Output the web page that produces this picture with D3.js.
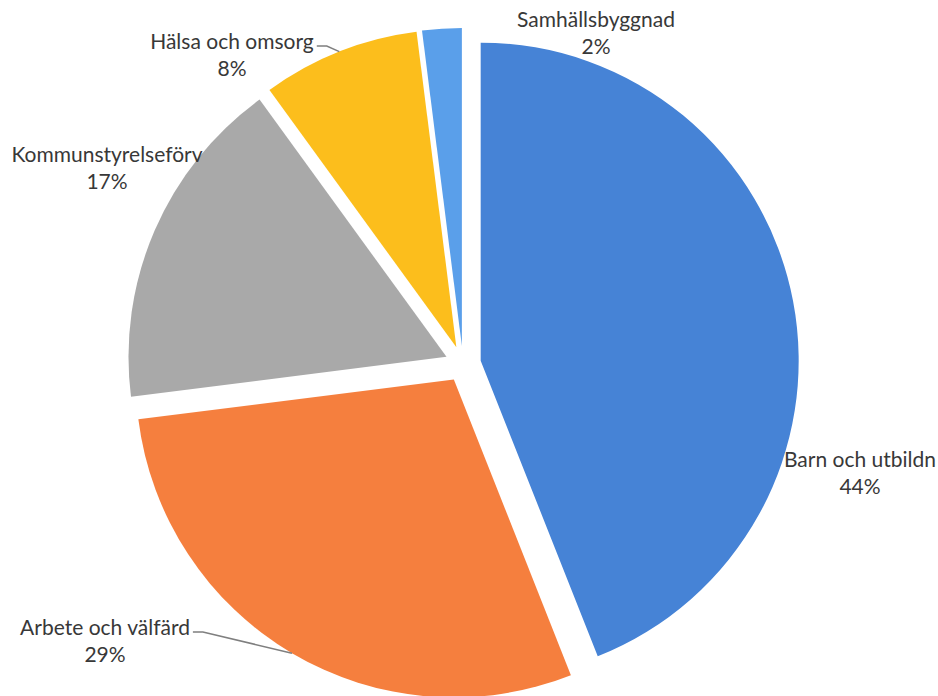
<!DOCTYPE html>
<html>
<head>
<meta charset="utf-8">
<script src="https://cdn.jsdelivr.net/npm/d3@7"></script>
<style>
  html, body { margin: 0; padding: 0; background: #fff; }
  svg text { font-family: Lato, "Open Sans", sans-serif; fill: #383838; }
</style>
</head>
<body>
<div id="chart"></div>
<script>
// data, clockwise from 12 o'clock
const categories = ["Barn och utbildn", "Arbete och välfärd", "Kommunstyrelseförv", "Hälsa och omsorg", "Samhällsbyggnad"];
const shares = [44, 29, 17, 8, 2];
const colors = ["#4683d6", "#f57f3e", "#a9a9a9", "#fcbe1c", "#5a9fea"];

// label anchors (first line baseline), relative to pie centre
const labelPos = [[397, 103], [-358, 271], [-356, -202], [-231, -315], [133, -337]];
const hasLeader = [false, true, false, true, false];

var width = 938, height = 696;
var cx = 463, cy = 364;
var radius = 318;
var explode = 18;
var fontSize = 21;

var svg = d3.select("#chart")
    .append("svg")
    .attr("width", width)
    .attr("height", height);

var g = svg.append("g")
    .attr("transform", "translate(" + cx + "," + cy + ")");

var pie = d3.pie()
    .sort(null)
    .value(d => d);

var arc = d3.arc()
    .innerRadius(0)
    .outerRadius(radius);

var arcs = pie(shares);

// every slice is pulled out along its middle angle
function offset(d) {
    var mid = (d.startAngle + d.endAngle) / 2;
    return [explode * Math.sin(mid), -explode * Math.cos(mid)];
}

g.selectAll("path.slice")
    .data(arcs)
    .enter().append("path")
    .attr("class", "slice")
    .attr("d", arc)
    .attr("fill", (d, i) => colors[i])
    .attr("transform", d => "translate(" + offset(d) + ")");

var leaderLayer = g.append("g")
    .attr("fill", "none")
    .attr("stroke", "#7f7f7f")
    .attr("stroke-width", 1.5);

var labels = g.selectAll("g.label")
    .data(arcs)
    .enter().append("g")
    .attr("class", "label")
    .attr("transform", (d, i) => "translate(" + labelPos[i] + ")");

labels.append("text")
    .attr("text-anchor", "middle")
    .attr("font-size", fontSize)
    .text((d, i) => categories[i]);

labels.append("text")
    .attr("text-anchor", "middle")
    .attr("font-size", fontSize)
    .attr("y", 27)
    .text(d => Math.round(d.data) + "%");

// leader lines: from the end of the label to the outer middle of the slice
labels.each(function (d, i) {
    if (!hasLeader[i]) return;
    var w = this.querySelector("text").getComputedTextLength();
    var lx = labelPos[i][0] + w / 2 + 3;
    var ly = labelPos[i][1] - 3;
    var mid = (d.startAngle + d.endAngle) / 2;
    var o = offset(d);
    var px = o[0] + radius * Math.sin(mid);
    var py = o[1] - radius * Math.cos(mid);
    leaderLayer.append("path")
        .attr("d", "M" + lx + "," + ly + "L" + (lx + 10) + "," + ly + "L" + px + "," + py);
});
</script>
</body>
</html>
